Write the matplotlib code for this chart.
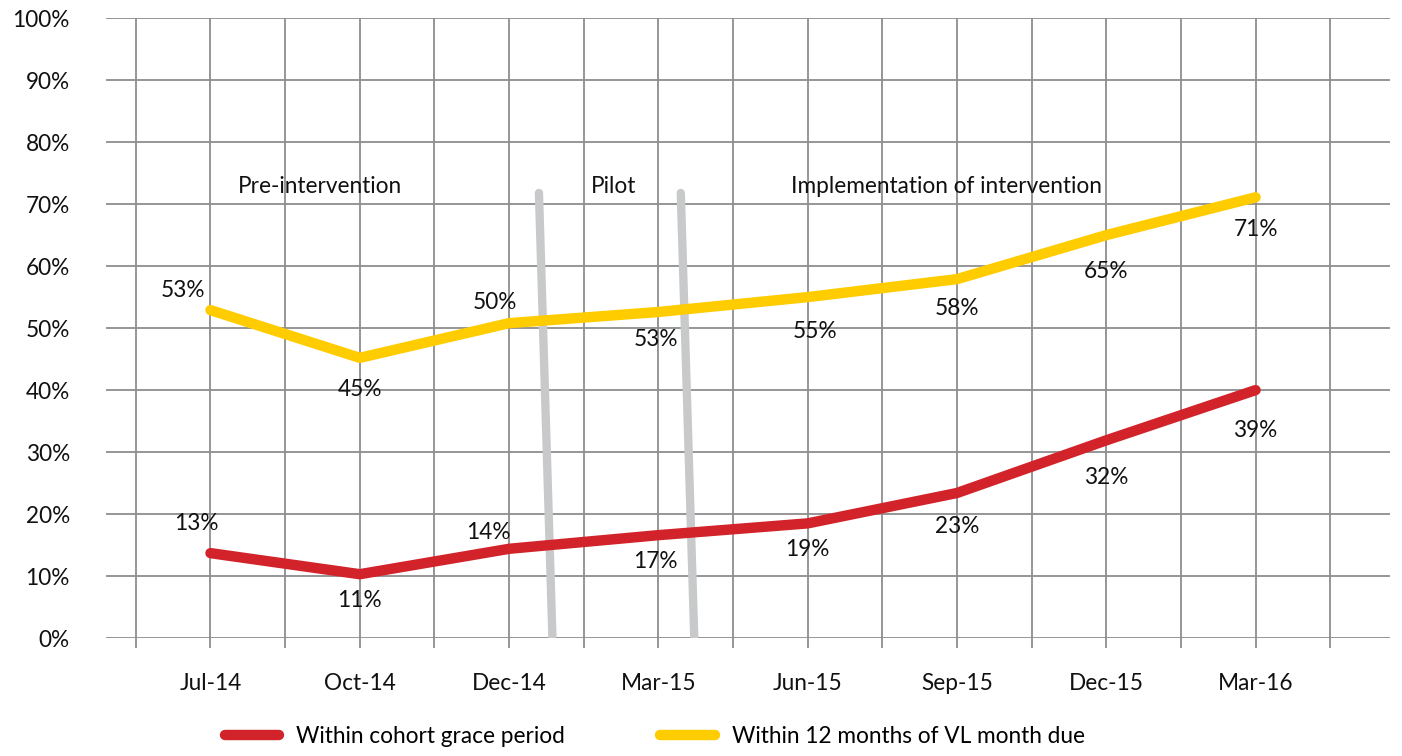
import matplotlib.pyplot as plt
import numpy as np

plt.rcParams['font.family'] = ['Lato', 'DejaVu Sans']

# data
months = ['Jul-14', 'Oct-14', 'Dec-14', 'Mar-15', 'Jun-15', 'Sep-15', 'Dec-15', 'Mar-16']
grace = [13.7, 10.3, 14.4, 16.6, 18.5, 23.4, 31.9, 40.0]
grace_lbl = ['13%', '11%', '14%', '17%', '19%', '23%', '32%', '39%']
within12 = [52.9, 45.2, 50.8, 52.6, 55.0, 57.9, 65.0, 71.1]
within12_lbl = ['53%', '45%', '50%', '53%', '55%', '58%', '65%', '71%']

# label offsets (points) for each value label
grace_off = [(-10, 21), (0, -19), (-15, 12), (-2, -19), (0, -19), (0, -24), (0, -27), (0, -29)]
within12_off = [(-20, 14), (0, -23), (-10, 15), (-2, -20), (5, -25), (0, -21), (0, -26), (0, -23)]

phases = ['Pre-intervention', 'Pilot', 'Implementation of intervention']
phase_x = [0.73, 2.70, 4.93]

red = '#d2232a'
yellow = '#ffcc00'
gridc = '#8d8d8d'
sepc = '#c8c9cb'
fs = 16.3

fig = plt.figure(figsize=(14.02, 7.56), dpi=100)
ax = fig.add_axes([0.0756, 0.156, 0.9158, 0.820])

x = np.arange(len(months))
ax.set_xlim(-0.70, 7.90)
ax.set_ylim(0, 100)

# grid
ax.set_yticks(np.arange(0, 101, 10))
ax.set_yticklabels([f'{v}%' for v in range(0, 101, 10)])
ax.grid(axis='y', color=gridc, linewidth=1.3)
ax.vlines(np.arange(-0.5, 8.0, 0.5), -1.6, 100, color=gridc, linewidth=1.3, clip_on=False, zorder=1)
for s in ax.spines.values():
    s.set_visible(False)
ax.set_axisbelow(True)

ax.set_xticks(x)
ax.set_xticklabels(months)
ax.tick_params(axis='both', length=0, labelsize=fs, colors='#111111')
ax.tick_params(axis='x', pad=25)
ax.tick_params(axis='y', pad=26)

# phase separators
ax.plot([2.20, 2.29], [71.8, 0.3], color=sepc, linewidth=6, solid_capstyle='round', zorder=2)
ax.plot([3.15, 3.24], [71.8, 0.3], color=sepc, linewidth=6, solid_capstyle='round', zorder=2)

for t, px in zip(phases, phase_x):
    ax.text(px, 72.9, t, ha='center', va='center', fontsize=fs, color='#111111')

l1, = ax.plot(x, grace, color=red, linewidth=7.5, solid_capstyle='round', solid_joinstyle='round', zorder=3)
l2, = ax.plot(x, within12, color=yellow, linewidth=7.5, solid_capstyle='round', solid_joinstyle='round', zorder=3)

for xi, v, lb, off in zip(x, grace, grace_lbl, grace_off):
    ax.annotate(lb, (xi, v), xytext=off, textcoords='offset points', ha='center', va='center',
                fontsize=fs, color='#111111', zorder=4)
for xi, v, lb, off in zip(x, within12, within12_lbl, within12_off):
    ax.annotate(lb, (xi, v), xytext=off, textcoords='offset points', ha='center', va='center',
                fontsize=fs, color='#111111', zorder=4)

fig.legend([l1, l2], ['Within cohort grace period', 'Within 12 months of VL month due'],
           loc='center', bbox_to_anchor=(0.467, 0.026), ncol=2, frameon=False, fontsize=fs,
           handlelength=2.4, handletextpad=0.75, columnspacing=4.2)

fig.savefig('out.png', dpi=100)
